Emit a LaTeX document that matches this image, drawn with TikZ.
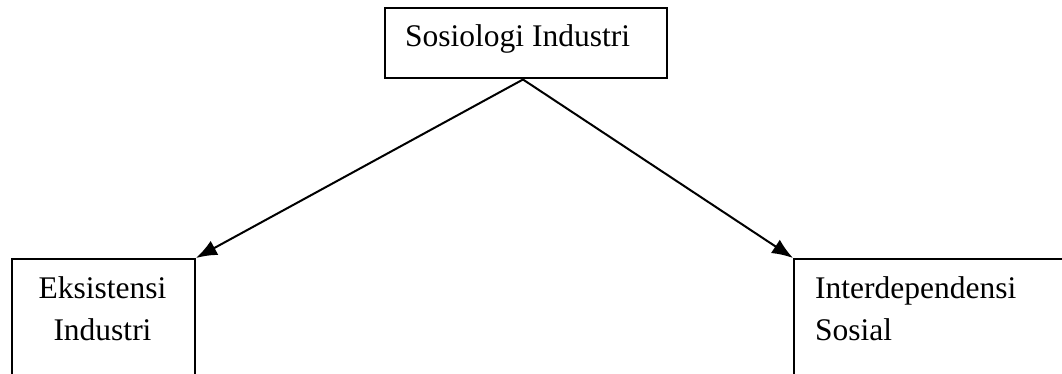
\documentclass[tikz,border=0pt]{standalone}
\usepackage{fontspec}
\setmainfont{Liberation Serif}
\usetikzlibrary{arrows.meta}
\begin{document}
\begin{tikzpicture}[x=1pt,y=-1pt,box/.style={draw,line width=2pt,inner sep=0pt},txt/.style={inner sep=0pt,font=\fontsize{31.5}{42}\selectfont}]
\clip (0,0) rectangle (1062,374);
\useasboundingbox (0,0) rectangle (1062,374);

%boxes
\node[box,minimum width=282pt,minimum height=70pt] (S) at (526,43.5) {};
\node[box,minimum width=183pt,minimum height=161pt] (E) at (103.5,339.5) {};
\node[box,minimum width=306pt,minimum height=161pt] (I) at (947,339.5) {};

%texts
\node[txt,anchor=base west] (s1) at (405,47) {Sosiologi Industri};
\node[txt,anchor=base] (e1) at (102.5,298) {Eksistensi};
\node[txt,anchor=base] (e2) at (102.5,340) {Industri};
\node[txt,anchor=base west] (i1) at (815,298) {Interdependensi};
\node[txt,anchor=base west] (i2) at (815,340) {Sosial};

\draw [line width=2pt,-{Latex[length=21pt,width=16pt]}] ([xshift=-3pt]S.south) -- (E.north east);
\draw [line width=2pt,-{Latex[length=21pt,width=16pt]}] ([xshift=-3pt]S.south) -- (I.north west);
\end{tikzpicture}
\end{document}
